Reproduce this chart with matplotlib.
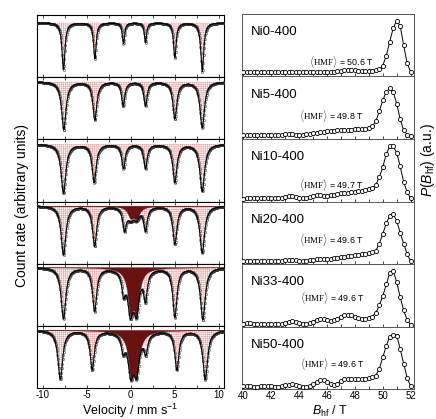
import numpy as np
import matplotlib
matplotlib.use("Agg")
import matplotlib.pyplot as plt
from matplotlib.ticker import MultipleLocator, NullLocator

plt.rcParams['font.family'] = ['Liberation Sans', 'DejaVu Sans']
plt.rcParams['mathtext.fontset'] = 'custom'
plt.rcParams['mathtext.rm'] = 'Liberation Serif'
plt.rcParams['mathtext.it'] = 'Liberation Sans:italic'
plt.rcParams['mathtext.sf'] = 'Liberation Sans'
plt.rcParams['hatch.linewidth'] = 0.35
plt.rcParams['hatch.color'] = '#e8a0a0'

# ---------------- data ----------------
samples = ['Ni0-400', 'Ni5-400', 'Ni10-400', 'Ni20-400', 'Ni33-400', 'Ni50-400']
hmf_values = [50.6, 49.8, 49.7, 49.6, 49.6, 49.6]

# Moessbauer sextet sub-spectra (line position mm/s, depth, half width)
sextet_pos = [
    [-7.64, -4.07, -0.82, 1.68, 5.02, 8.13],
    [-7.60, -4.07, -0.85, 1.68, 5.02, 8.13],
    [-7.64, -4.15, -0.82, 1.68, 5.02, 8.13],
    [-7.64, -4.10, -0.70, 1.68, 5.02, 8.13],
    [-7.64, -4.10, -0.80, 1.68, 5.02, 8.20],
    [-8.00, -4.37, -0.85, 1.72, 5.25, 8.47],
]
sextet_depth = [
    [47, 36, 21, 20, 35, 49],
    [48, 38, 24, 24, 37, 46],
    [49, 38, 24, 24, 38, 47],
    [49, 40, 22, 23, 38, 47],
    [51, 43, 20, 28, 49, 52],
    [49, 39, 15, 18, 39, 49],
]
sextet_hw = [
    [0.20, 0.18, 0.15, 0.15, 0.18, 0.20],
    [0.30, 0.27, 0.22, 0.22, 0.27, 0.30],
    [0.32, 0.28, 0.24, 0.24, 0.28, 0.32],
    [0.32, 0.28, 0.24, 0.24, 0.28, 0.32],
    [0.32, 0.28, 0.24, 0.24, 0.28, 0.32],
    [0.32, 0.28, 0.24, 0.24, 0.28, 0.32],
]
# central (dark) component: doublet + broad line
dark_pos = [[], [], [], [-0.05, 0.70, 0.35], [-0.05, 0.68, 0.30], [0.00, 0.68, 0.30]]
dark_depth = [[], [], [], [8, 8, 5], [31, 31, 16], [29, 29, 16]]
dark_hw = [[], [], [], [0.35, 0.35, 0.65], [0.32, 0.32, 0.70], [0.32, 0.32, 0.80]]

# hyperfine field distributions P(Bhf)
bhf = np.arange(40.0, 52.01, 0.25)
p_ni0 = [0.01, 0.01, 0.01, 0.01, 0.01, 0.01, 0.01, 0.01, 0.01, 0.01, 0.01, 0.01,
         0.01, 0.01, 0.01, 0.01, 0.01, 0.01, 0.01, 0.01, 0.01, 0.01, 0.01, 0.01,
         0.02, 0.02, 0.02, 0.03,
         0.04, 0.05, 0.06, 0.06, 0.05, 0.04, 0.04, 0.04, 0.04, 0.04, 0.05, 0.07,
         0.14, 0.33, 0.60, 0.86, 1.00, 0.90, 0.53, 0.18, 0.02]
p_ni5 = [0.02, 0.02, 0.02, 0.02, 0.02, 0.02, 0.02, 0.02, 0.03, 0.03, 0.03, 0.03,
         0.04, 0.04, 0.04, 0.03,
         0.03, 0.03, 0.04, 0.05, 0.06, 0.07, 0.08, 0.09, 0.10, 0.10, 0.11, 0.12,
         0.12, 0.13, 0.13, 0.13,
         0.14, 0.14, 0.14, 0.15, 0.16, 0.20, 0.31, 0.52, 0.75, 0.93, 1.00, 0.92,
         0.68, 0.35, 0.12, 0.03, 0.00]
p_ni10 = [0.01, 0.02, 0.02, 0.02, 0.02, 0.02, 0.02, 0.02, 0.02, 0.02, 0.02, 0.03,
          0.05, 0.06, 0.06, 0.05, 0.03, 0.02, 0.03, 0.05, 0.07, 0.08, 0.08, 0.07,
          0.07, 0.08, 0.09, 0.10, 0.11, 0.12, 0.12, 0.13, 0.14, 0.15, 0.16, 0.17,
          0.19, 0.22, 0.27, 0.42, 0.60, 0.85, 0.99, 0.99, 0.87, 0.62, 0.32, 0.14, 0.02]
p_ni20 = [0.02, 0.02, 0.02, 0.02, 0.02, 0.02, 0.02, 0.02, 0.02, 0.02, 0.02, 0.03,
          0.04, 0.05, 0.05, 0.04, 0.03, 0.03, 0.03, 0.04, 0.05, 0.06, 0.06, 0.06,
          0.06, 0.07, 0.08, 0.09, 0.10, 0.11, 0.12, 0.13, 0.14, 0.15, 0.16, 0.17,
          0.18, 0.20, 0.23, 0.38, 0.58, 0.80, 0.96, 0.99, 0.85, 0.60, 0.38, 0.16, 0.02]
p_ni33 = [0.01, 0.03, 0.03, 0.02, 0.01, 0.01, 0.01, 0.01, 0.01, 0.01, 0.01, 0.02,
          0.04, 0.06, 0.07, 0.06, 0.04, 0.02, 0.02, 0.03, 0.06, 0.09, 0.10, 0.10,
          0.08, 0.07, 0.08, 0.11, 0.15, 0.17, 0.18, 0.17, 0.15, 0.12, 0.10, 0.10,
          0.12, 0.15, 0.22, 0.35, 0.52, 0.73, 0.94, 0.98, 0.77, 0.50, 0.26, 0.09, 0.00]
p_ni50 = [0.02, 0.02, 0.02, 0.01, 0.01, 0.02, 0.03, 0.03, 0.02, 0.01, 0.01, 0.02,
          0.04, 0.05, 0.06, 0.05, 0.03, 0.01, 0.01, 0.02, 0.06, 0.10, 0.13, 0.13,
          0.10, 0.06, 0.04, 0.07, 0.12, 0.15, 0.16, 0.16, 0.15, 0.15, 0.15, 0.16,
          0.17, 0.19, 0.22, 0.35, 0.56, 0.78, 0.95, 0.98, 0.97, 0.72, 0.44, 0.18, 0.02]
distributions = [p_ni0, p_ni5, p_ni10, p_ni20, p_ni33, p_ni50]

# ---------------- layout ----------------
W, H = 436, 419
fig = plt.figure(figsize=(W / 100, H / 100), dpi=100)

left_top_margin = [7.7, 4.5, 4.7, 4.2, 3.6, 4.2]
right_ylim = [(-0.07, 1.13), (-0.063, 1.25), (-0.04, 1.13), (-0.04, 1.25),
              (-0.03, 1.10), (-0.03, 1.14)]
hmf_xy = [(0.39, 0.24), (0.33, 0.37), (0.33, 0.26), (0.33, 0.38), (0.34, 0.46), (0.34, 0.40)]

v = np.linspace(-10.65, 10.6, 430)


def lorentz_sum(x, pos, depth, hw):
    out = np.zeros_like(x)
    for p, d, w in zip(pos, depth, hw):
        out += d * w ** 2 / ((x - p) ** 2 + w ** 2)
    return out


ph_left = 62.17
for i in range(6):
    top = 15 + i * ph_left
    ax = fig.add_axes([37 / W, 1 - (top + ph_left) / H, 187 / W, ph_left / H])
    sext = lorentz_sum(v, sextet_pos[i], sextet_depth[i], sextet_hw[i])
    dark = lorentz_sum(v, dark_pos[i], dark_depth[i], dark_hw[i])
    total = sext + dark
    ax.fill_between(v, 0, -sext, facecolor='#fff6f6', edgecolor='#e8a0a0',
                    hatch='++++++++', linewidth=0, zorder=1)
    if dark_pos[i]:
        ax.fill_between(v, 0, -dark, facecolor='#6a1111', edgecolor='#6a1111',
                        linewidth=0.3, zorder=2)
    ax.plot(v, -total, 'o', ms=1.6, mfc='none', mec='#333333', mew=0.35, zorder=3)
    ax.plot(v, -total, '-', color='black', lw=0.8, zorder=4)
    m = left_top_margin[i]
    ax.set_ylim(-(ph_left - m), m)
    ax.set_xlim(-10.65, 10.6)
    ax.yaxis.set_major_locator(NullLocator())
    ax.xaxis.set_major_locator(MultipleLocator(5))
    ax.xaxis.set_minor_locator(MultipleLocator(2.5))
    ax.tick_params(axis='x', which='both', direction='in', top=True, bottom=True,
                   length=2, width=0.5, labelsize=7, pad=1.5, labelbottom=(i == 5))
    for s in ax.spines.values():
        s.set_linewidth(0.8)
    if i == 5:
        ax.set_xticks([-10, -5, 0, 5, 10])
        ax.set_xticklabels(['-10', '-5', '0', '5', '10'])

ph_right = 62.5
for i in range(6):
    top = 14 + i * ph_right
    ax = fig.add_axes([242 / W, 1 - (top + ph_right) / H, 172 / W, ph_right / H])
    ax.plot(bhf, distributions[i], '-', color='black', lw=0.7, zorder=2)
    ax.plot(bhf, distributions[i], 'o', ms=3.0, mfc='white', mec='black', mew=0.6, zorder=3)
    ax.set_xlim(39.9, 52.24)
    ax.set_ylim(*right_ylim[i])
    ax.yaxis.set_major_locator(NullLocator())
    ax.xaxis.set_major_locator(MultipleLocator(2))
    ax.xaxis.set_minor_locator(MultipleLocator(1))
    ax.tick_params(axis='x', which='both', direction='in', top=False, bottom=True,
                   length=2, width=0.5, labelsize=7, pad=1.5, labelbottom=(i == 5))
    for s in ax.spines.values():
        s.set_linewidth(0.7)
        s.set_color('#555555')
    ax.text(0.05, 0.71, samples[i], transform=ax.transAxes, fontsize=9.5,
            ha='left', va='center')
    ax.text(hmf_xy[i][0], hmf_xy[i][1],
            r'$\langle\mathrm{HMF}\rangle$' + ' = %.1f T' % hmf_values[i],
            transform=ax.transAxes, fontsize=6.4, ha='left', va='center')

fig.text(22 / W, 1 - 205 / H, 'Count rate (arbitrary units)', rotation=90,
         ha='center', va='center', fontsize=10)
fig.text(130 / W, 1 - 410.5 / H, r'Velocity / mm s$^{\mathsf{-1}}$', ha='center',
         va='center', fontsize=9)
fig.text(330 / W, 1 - 411 / H, r'$B$$_{\mathsf{hf}}$ / T', ha='center', va='center',
         fontsize=9)
fig.text(428 / W, 1 - 160 / H, r'$P$($B$$_{\mathsf{hf}}$) (a.u.)', rotation=90,
         ha='center', va='center', fontsize=10)

fig.savefig('out.png', dpi=100)
